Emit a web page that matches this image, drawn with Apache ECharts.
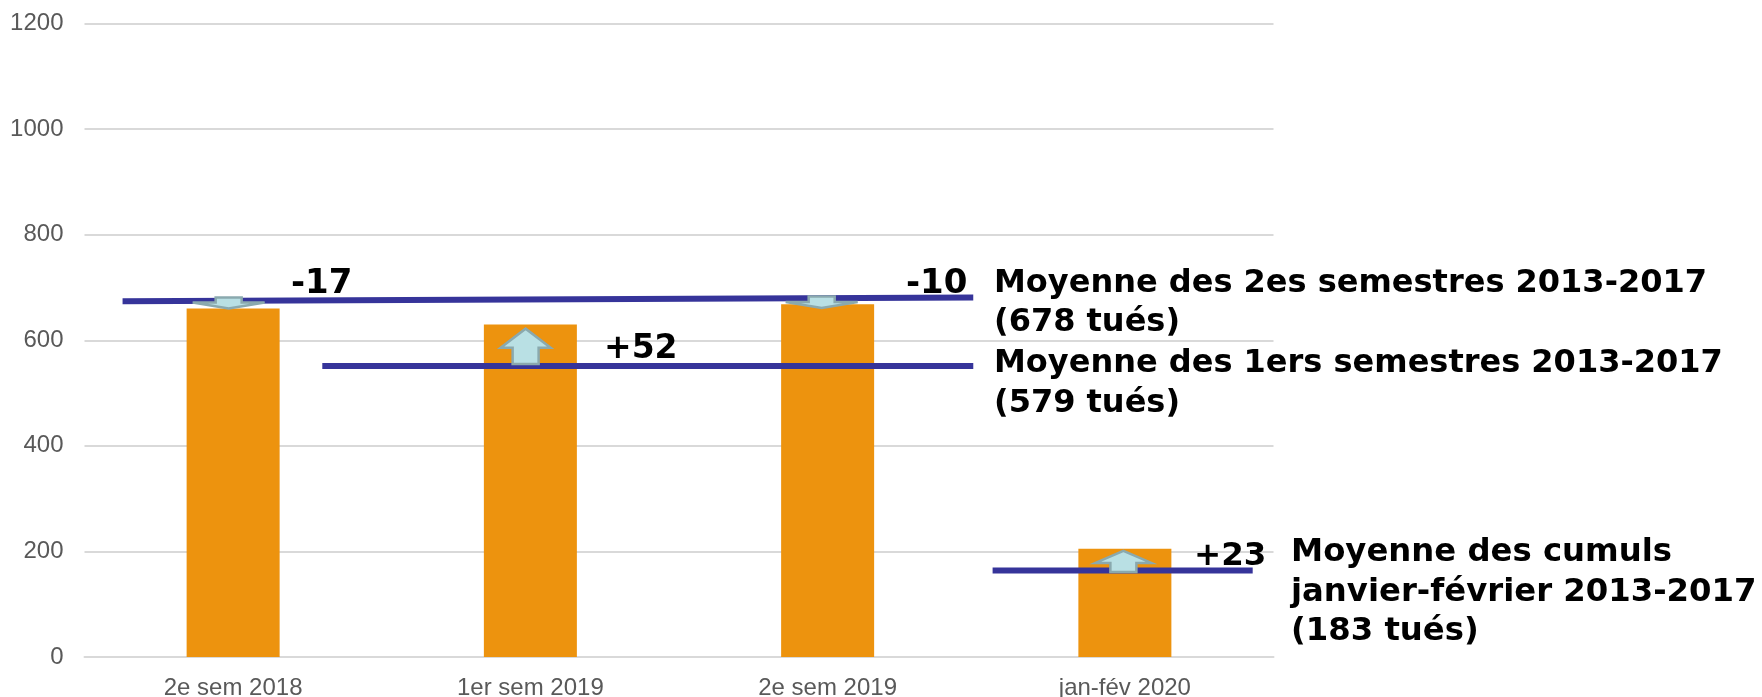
<!DOCTYPE html>
<html><head><meta charset="utf-8">
<style>html,body{margin:0;padding:0;background:#fff}#c{width:1762px;height:697px}</style>
<script src="https://cdn.jsdelivr.net/npm/echarts@6/dist/echarts.min.js"></script>
</head><body><div id="c"></div>
<script>
const categories = ['2e sem 2018', '1er sem 2019', '2e sem 2019', 'jan-fév 2020'];
const values = [660, 630, 668, 205];
const yTicks = [0, 200, 400, 600, 800, 1000, 1200];
// mean lines: [position along the category band axis (0-4), value]
const mean2es = [[0.128, 674], [2.99, 681]];
const mean1ers = [[0.80, 551], [2.99, 551]];
const meanJanFev = [[3.055, 164], [3.93, 164]];
// arrows: [position along band axis, tail value, tip value]
const arrows = [[0.485, 681, 660], [1.484, 555, 622], [2.48, 683, 661], [3.495, 161, 201]];
const deltas = ['-17', '+52', '-10', '+23'];
const meanLabels = ['Moyenne des 2es semestres 2013-2017\n(678 tués)', 'Moyenne des 1ers semestres 2013-2017\n(579 tués)', 'Moyenne des cumuls\njanvier-février 2013-2017\n(183 tués)'];

const big = {fontFamily: 'DejaVu Sans', fontWeight: 'bold', fontSize: 32, fill: '#000', lineHeight: 39.5};
function txt(x, y, t, o) { return {type: 'text', x, y, z: 50, style: Object.assign({text: t, textVerticalAlign: 'middle'}, big, o || {})}; }
function meanLine(d) {
  return {type: 'line', xAxisIndex: 1, data: d, symbol: 'none', z: 5, silent: true,
    lineStyle: {color: '#36349A', width: 6}};
}
const chart = echarts.init(document.getElementById('c'), null, {renderer: 'canvas'});
chart.setOption({
  animation: false,
  backgroundColor: '#fff',
  grid: {left: 84.5, right: 488.5, top: 23.5, bottom: 40, outerBoundsMode: 'none'},
  xAxis: [
    {type: 'category', data: categories, axisTick: {show: false},
     axisLine: {lineStyle: {color: '#D9D9D9', width: 2}},
     axisLabel: {color: '#595959', fontFamily: 'Liberation Sans', fontSize: 24, margin: 19}},
    {type: 'value', min: 0, max: 4, show: false}
  ],
  yAxis: {type: 'value', min: 0, max: 1200, interval: 200,
    axisLine: {show: false}, axisTick: {show: false},
    splitLine: {lineStyle: {color: '#D9D9D9', width: 2}},
    axisLabel: {color: '#595959', fontFamily: 'Liberation Sans', fontSize: 24, margin: 21,
      formatter: v => String(v)}},
  series: [
    {type: 'bar', data: values, barWidth: 93, itemStyle: {color: '#ED930E'}, z: 2},
    meanLine(mean2es), meanLine(mean1ers), meanLine(meanJanFev),
    {type: 'custom', xAxisIndex: 1, z: 10, silent: true, data: arrows, encode: {x: 0, y: [1, 2]},
     renderItem(params, api) {
       const x = api.coord([api.value(0), 0])[0];
       const a = api.coord([0, api.value(1)])[1];
       const b = api.coord([0, api.value(2)])[1];
       const dir = b < a ? 1 : -1;          // 1 = up
       const hw = dir > 0 ? (params.dataIndex === 1 ? 25 : 28) : 36;
       const hh = dir > 0 ? (params.dataIndex === 1 ? 19 : 12) : 6;
       const sw = 13;
       const baseY = b + dir * hh;
       return {type: 'polygon', shape: {points: [
         [x - sw, a], [x - sw, baseY], [x - hw, baseY], [x, b], [x + hw, baseY], [x + sw, baseY], [x + sw, a]
       ]}, style: {fill: '#B9E0E4', stroke: '#8AA9AE', lineWidth: 2.5}};
     }}
  ],
  graphic: [
    txt(291, 284, deltas[0], {fontSize: 34}),
    txt(604, 349, deltas[1], {fontSize: 33}),
    txt(906, 284, deltas[2], {fontSize: 34}),
    txt(1194, 557, deltas[3], {fontSize: 32.5}),
    txt(994, 303, meanLabels[0]),
    txt(994, 383.5, meanLabels[1]),
    txt(1291, 592.5, meanLabels[2], {fontSize: 32.3})
  ]
});
</script></body></html>
